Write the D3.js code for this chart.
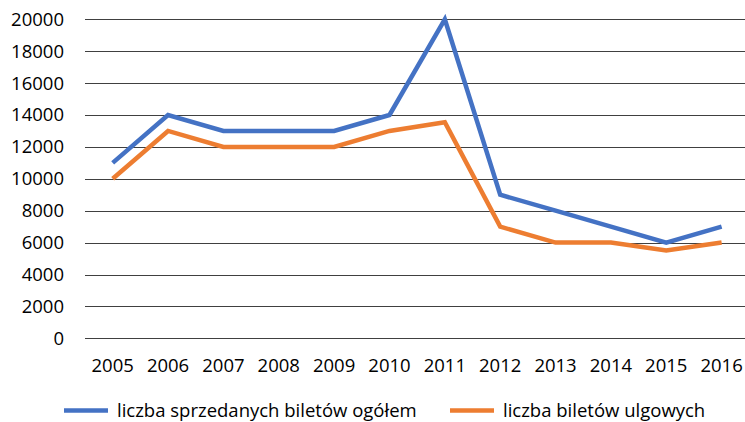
<!DOCTYPE html>
<html><head><meta charset="utf-8">
<script src="https://cdn.jsdelivr.net/npm/d3@7"></script>
<style>body{margin:0;background:#fff}svg{display:block}text{font-family:"Open Sans",sans-serif;fill:#000}</style>
</head><body><svg id="c" width="745" height="422"></svg>
<script>
const years = ["2005","2006","2007","2008","2009","2010","2011","2012","2013","2014","2015","2016"];
const totalTickets = [11000,14000,13000,13000,13000,14000,20000,9000,8000,7000,6000,7000];
const reducedTickets = [10000,13000,12000,12000,12000,13000,13550,7000,6000,6000,5500,6000];
const yTicks = [0,2000,4000,6000,8000,10000,12000,14000,16000,18000,20000];
const seriesNames = ["liczba sprzedanych biletów ogółem","liczba biletów ulgowych"];
const colors = ["#4472C4","#ED7D31"];

(function(){
const svg = d3.select("#c");
const mLeft = 85, mRight = 749.3, mTop = 19.3, mBottom = 338.3;
const x = d3.scaleBand().domain(years).range([mLeft, mRight]);
const y = d3.scaleLinear().domain([0,20000]).range([mBottom, mTop]);

const g = svg.append("g");
g.selectAll("line.grid").data(yTicks).enter().append("line")
  .attr("x1", mLeft).attr("x2", mRight)
  .attr("y1", d => Math.round(y(d))+0.5).attr("y2", d => Math.round(y(d))+0.5)
  .attr("stroke", "#404040").attr("stroke-width", 1);

g.selectAll("text.yl").data(yTicks).enter().append("text")
  .attr("x", 64).attr("y", d => y(d)).attr("dy", "0.35em")
  .attr("text-anchor", "end").attr("font-size", "18.5px").text(d => d);

g.selectAll("text.xl").data(years).enter().append("text")
  .attr("x", d => x(d) + x.bandwidth()/2).attr("y", 372)
  .attr("text-anchor", "middle").attr("font-size", "18.5px").text(d => d);

const line = d3.line().x((d,i) => x(years[i]) + x.bandwidth()/2).y(d => y(d));
[totalTickets, reducedTickets].forEach((s, k) => {
  g.append("path").attr("d", line(s)).attr("fill", "none")
    .attr("stroke", colors[k]).attr("stroke-width", 4.5)
    .attr("stroke-linejoin", "miter").attr("stroke-linecap", "butt");
});

const legendX = [64, 450];
seriesNames.forEach((n, k) => {
  g.append("line").attr("x1", legendX[k]).attr("x2", legendX[k]+44)
    .attr("y1", 410.5).attr("y2", 410.5).attr("stroke", colors[k]).attr("stroke-width", 4.5);
  g.append("text").attr("x", legendX[k]+53).attr("y", 410.5).attr("dy","0.35em")
    .attr("font-size", "18.5px").text(n);
});
})();
</script></body></html>
